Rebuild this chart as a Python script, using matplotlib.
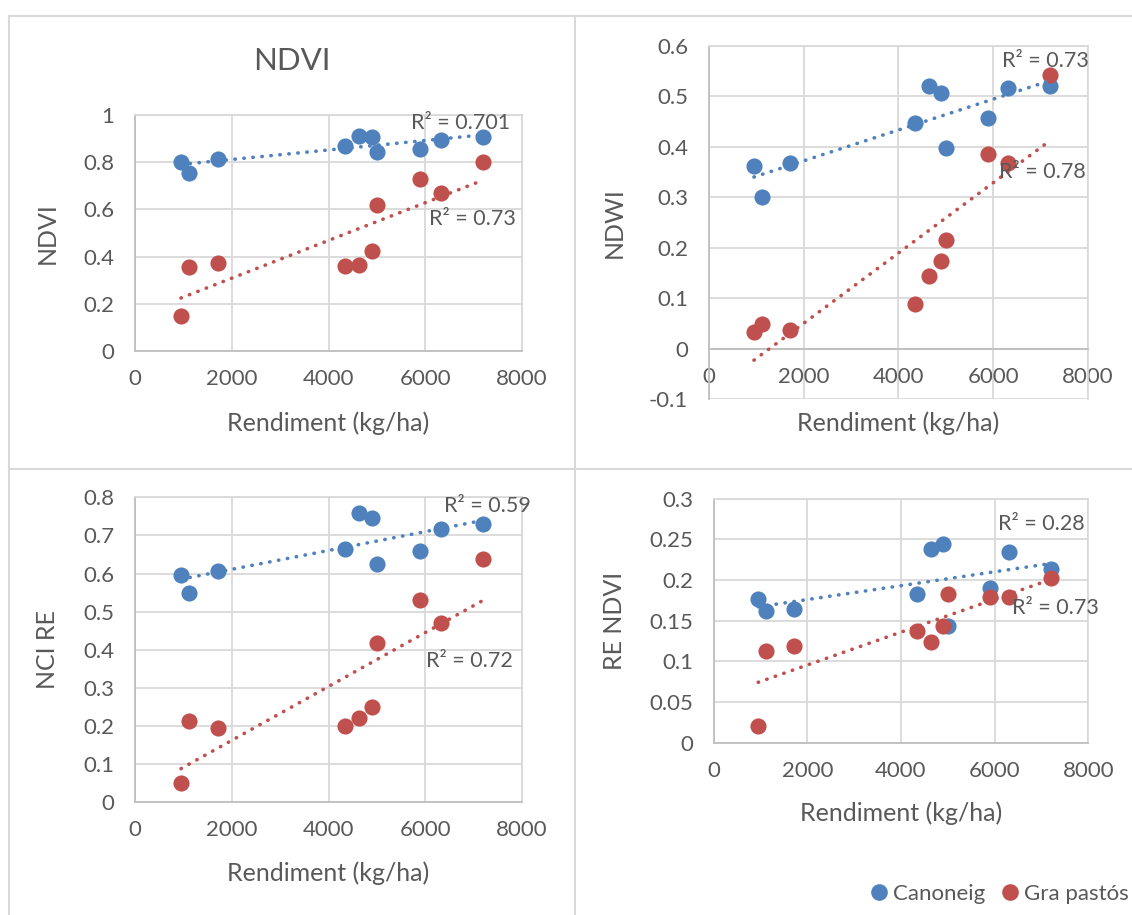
"""
Four scatter panels (NDVI, NDWI, NCI RE, RE NDVI) against grain yield,
two crop types, each with a dotted linear trendline and its R² label.
"""

import numpy as np
import matplotlib.pyplot as plt
from matplotlib.lines import Line2D
from matplotlib.ticker import FuncFormatter, MultipleLocator

# Data.
yield_kg_ha = [950, 1110, 1715, 4345, 4635, 4890, 4995, 5890, 6315, 7200]

ndvi_canoneig = [0.803, 0.756, 0.812, 0.867, 0.911, 0.908, 0.843, 0.857, 0.895, 0.908]
ndvi_gra = [0.150, 0.356, 0.373, 0.361, 0.365, 0.425, 0.619, 0.729, 0.669, 0.802]

ndwi_canoneig = [0.363, 0.300, 0.368, 0.448, 0.521, 0.507, 0.398, 0.458, 0.516, 0.520]
ndwi_gra = [0.034, 0.050, 0.038, 0.088, 0.144, 0.175, 0.215, 0.386, 0.368, 0.543]

ncire_canoneig = [0.597, 0.549, 0.607, 0.665, 0.760, 0.745, 0.626, 0.659, 0.718, 0.730]
ncire_gra = [0.050, 0.213, 0.196, 0.200, 0.220, 0.250, 0.418, 0.530, 0.469, 0.637]

rendvi_canoneig = [0.177, 0.162, 0.164, 0.183, 0.238, 0.244, 0.143, 0.190, 0.234, 0.213]
rendvi_gra = [0.021, 0.113, 0.119, 0.137, 0.124, 0.143, 0.183, 0.179, 0.179, 0.203]

series_names = ['Canoneig', 'Gra pastós']
y_labels = ['NDVI', 'NDWI', 'NCI RE', 'RE NDVI']
r2_labels = [['R² = 0.701', 'R² = 0.73'],
             ['R² = 0.73', 'R² = 0.78'],
             ['R² = 0.59', 'R² = 0.72'],
             ['R² = 0.28', 'R² = 0.73']]

# Styling.
BLUE = '#4F81BD'
RED = '#C0504D'
TEXT = '#595959'
GRID = '#D9D9D9'
AXIS = '#BFBFBF'
W, H = 1132, 915

plt.rcParams['font.family'] = ['Lato', 'DejaVu Sans']
plt.rcParams['text.color'] = TEXT


def fmt(v, _pos):
    """Excel-like general number format."""
    v = round(v, 3)
    if v == 0:
        return '0'
    return f'{v:g}'


def setup_axes(ax, ylim, ystep, ylabel, ylab_x, xlab_y):
    """Grid, ticks and labels in the style of an Excel scatter chart."""
    ax.set_xlim(0, 8000)
    ax.set_ylim(*ylim)
    ax.xaxis.set_major_locator(MultipleLocator(2000))
    ax.yaxis.set_major_locator(MultipleLocator(ystep))
    ax.yaxis.set_major_formatter(FuncFormatter(fmt))
    ax.xaxis.set_major_formatter(FuncFormatter(fmt))
    ax.grid(True, color=GRID, lw=1.3, zorder=0)
    ax.set_axisbelow(True)
    for side in ['top', 'right']:
        ax.spines[side].set_color(GRID)
        ax.spines[side].set_linewidth(1.3)
    for side in ['left', 'bottom']:
        ax.spines[side].set_color(AXIS)
        ax.spines[side].set_linewidth(1.3)
    ax.tick_params(length=0, labelsize=16, labelcolor=TEXT)
    ax.tick_params(axis='x', pad=13)
    ax.tick_params(axis='y', pad=15)
    ax.set_ylabel(ylabel, fontsize=18, color=TEXT)
    ax.yaxis.set_label_coords(ylab_x, 0.5)
    ax.set_xlabel('Rendiment (kg/ha)', fontsize=18, color=TEXT)
    ax.xaxis.set_label_coords(0.5, xlab_y)
    ax.xaxis.label.set_va('center')


def plot_panel(ax, ys, labels, label_pos):
    """Scatter both series, add trendlines and R² labels."""
    x = np.array(yield_kg_ha)
    for y, color, lab, pos in zip(ys, [BLUE, RED], labels, label_pos):
        y = np.array(y)
        ax.scatter(x, y, s=135, color=color, zorder=3, linewidths=0)
        slope, icpt = np.polyfit(x, y, 1)
        xs = np.array([x.min(), x.max()])
        ax.plot(xs, slope * xs + icpt, color=color, lw=2.6,
                linestyle=(0, (0.1, 2.4)), dash_capstyle='round', zorder=4)
        ax.text(pos[0], pos[1], lab, ha='center', va='center', fontsize=15.5,
                color=TEXT, zorder=5)


def frame_lines(fig):
    """Light borders around the chart areas."""
    segs = [((8.7, 16), (W, 16)), ((8.7, 469.5), (W, 469.5)),
            ((8.7, 16), (8.7, H)), ((575.5, 16), (575.5, H))]
    for (x0, y0), (x1, y1) in segs:
        fig.add_artist(Line2D([x0 / W, x1 / W], [1 - y0 / H, 1 - y1 / H],
                              transform=fig.transFigure, color=GRID, lw=1.5))


def main():
    fig = plt.figure(figsize=(W / 100, H / 100), dpi=100)
    frame_lines(fig)

    ax1 = fig.add_axes([0.1193, 0.6164, 0.3419, 0.2579])
    ax2 = fig.add_axes([0.6263, 0.5636, 0.3348, 0.3861])
    ax3 = fig.add_axes([0.1193, 0.1232, 0.3419, 0.3333])
    ax4 = fig.add_axes([0.6305, 0.1883, 0.3309, 0.2667])

    setup_axes(ax1, (0, 1), 0.2, y_labels[0], -0.196, -0.305)
    setup_axes(ax2, (-0.1, 0.6), 0.1, y_labels[1], -0.219, -0.068)
    setup_axes(ax3, (0, 0.8), 0.1, y_labels[2], -0.196, -0.232)
    setup_axes(ax4, (0, 0.3), 0.05, y_labels[3], -0.234, -0.288)

    # NDWI panel: horizontal axis crosses at zero.
    ax2.spines['bottom'].set_position(('data', 0))

    plot_panel(ax1, [ndvi_canoneig, ndvi_gra], r2_labels[0],
               [(6720, 0.965), (6984, 0.561)])
    plot_panel(ax2, [ndwi_canoneig, ndwi_gra], r2_labels[1],
               [(7099, 0.570), (7038, 0.350)])
    plot_panel(ax3, [ncire_canoneig, ncire_gra], r2_labels[2],
               [(7284, 0.778), (6909, 0.370)])
    plot_panel(ax4, [rendvi_canoneig, rendvi_gra], r2_labels[3],
               [(7004, 0.2685), (7301, 0.166)])

    fig.text(292 / W, 1 - 61 / H, 'NDVI', ha='center', va='center',
             fontsize=22.5, color=TEXT)

    handles = [Line2D([], [], marker='o', ls='none', color=c, markersize=12,
                      markeredgewidth=0) for c in [BLUE, RED]]
    fig.legend(handles, series_names, loc='center right',
               bbox_to_anchor=(1129 / W, 1 - 894 / H), ncol=2, frameon=False,
               fontsize=16, handletextpad=0.15, columnspacing=0.6,
               handlelength=1.0, borderpad=0, borderaxespad=0,
               labelcolor=TEXT)

    fig.savefig('out.png', dpi=100, facecolor='white')


if __name__ == '__main__':
    main()
